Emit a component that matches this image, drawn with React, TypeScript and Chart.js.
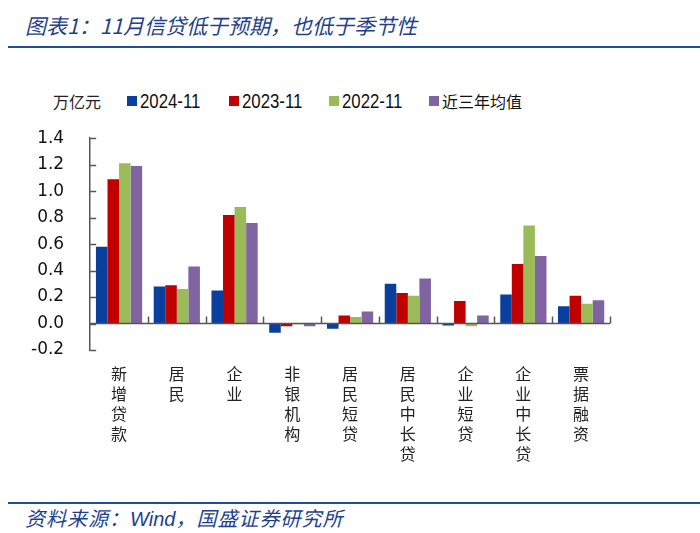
import React, { useEffect, useRef } from "react";
import { Chart, registerables } from "chart.js";

Chart.register(...registerables);

const categories: string[][] = [
  ["新", "增", "贷", "款"],
  ["居", "民"],
  ["企", "业"],
  ["非", "银", "机", "构"],
  ["居", "民", "短", "贷"],
  ["居", "民", "中", "长", "贷"],
  ["企", "业", "短", "贷"],
  ["企", "业", "中", "长", "贷"],
  ["票", "据", "融", "资"],
];

const seriesNames = ["2024-11", "2023-11", "2022-11", "近三年均值"];
const seriesColors = ["#0B3F9E", "#C00000", "#9BBB59", "#8064A2"];

const v2024 = [0.58, 0.28, 0.25, -0.07, -0.04, 0.3, -0.015, 0.22, 0.13];
const v2023 = [1.09, 0.29, 0.82, -0.02, 0.06, 0.23, 0.17, 0.45, 0.21];
const v2022 = [1.21, 0.26, 0.88, -0.005, 0.05, 0.21, -0.02, 0.74, 0.15];
const vAvg = [1.19, 0.43, 0.76, -0.02, 0.09, 0.34, 0.06, 0.51, 0.175];

const yMin = -0.2;
const yMax = 1.4;
const yStep = 0.2;

const axisColor = "#555555";

const axisPlugin = {
  id: "zeroAxis",
  afterDatasetsDraw(chart: any) {
    const { ctx, chartArea, scales } = chart;
    const x = scales.x;
    const y = scales.y;
    const y0 = y.getPixelForValue(0);
    ctx.save();
    ctx.strokeStyle = axisColor;
    ctx.lineWidth = 1.5;
    ctx.beginPath();
    ctx.moveTo(chartArea.left, y0);
    ctx.lineTo(chartArea.right, y0);
    ctx.stroke();
    const n = x.ticks.length;
    for (let i = 1; i <= n; i++) {
      const px = Math.round(x.getPixelForValue(i - 0.5)) + 0.5;
      ctx.beginPath();
      ctx.moveTo(px, y0);
      ctx.lineTo(px, y0 - 7);
      ctx.stroke();
    }
    for (const t of y.ticks) {
      const py = Math.round(y.getPixelForValue(t.value)) + 0.5;
      ctx.beginPath();
      ctx.moveTo(chartArea.left, py);
      ctx.lineTo(chartArea.left + 6, py);
      ctx.stroke();
    }
    ctx.restore();
  },
};

export default function App() {
  const ref = useRef<HTMLCanvasElement | null>(null);
  useEffect(() => {
    if (!ref.current) return;
    const values = [v2024, v2023, v2022, vAvg];
    const chart = new Chart(ref.current, {
      type: "bar",
      data: {
        labels: categories as any,
        datasets: values.map((d, i) => ({
          label: seriesNames[i],
          data: d,
          backgroundColor: seriesColors[i],
          borderWidth: 0,
          barPercentage: 1,
          categoryPercentage: 0.8,
        })),
      },
      options: {
        animation: false,
        responsive: false,
        maintainAspectRatio: false,
        layout: { padding: { left: 5, right: 90, top: 11, bottom: 14 } },
        plugins: {
          legend: { display: false },
          tooltip: { enabled: false },
        },
        scales: {
          x: {
            grid: { display: false, drawTicks: false },
            border: { display: false },
            ticks: {
              autoSkip: false,
              maxRotation: 0,
              minRotation: 0,
              padding: 14,
              color: "#222222",
              font: { family: "'Noto Sans CJK SC', sans-serif", size: 16, lineHeight: 1.25 },
            },
          },
          y: {
            min: yMin,
            max: yMax,
            grid: { display: false, drawTicks: false },
            border: { display: true, color: axisColor, width: 1.5 },
            ticks: {
              stepSize: yStep,
              padding: 26,
              color: "#111111",
              font: { family: "'DejaVu Sans', sans-serif", size: 17 },
              callback: (v: any) => {
                const n = Number(v);
                return (Math.abs(n) < 1e-9 ? 0 : n).toFixed(1);
              },
            },
          },
        },
      },
      plugins: [axisPlugin],
    });
    return () => chart.destroy();
  }, []);

  const blue = "#1E3F8E";
  const legendLefts = [127, 229, 329, 429];

  return (
    <div style={{ position: "fixed", left: 0, top: 0, width: 700, height: 533, background: "#fff", overflow: "hidden" }}>
      <div
        style={{
          position: "absolute",
          left: 25,
          top: 11,
          fontFamily: "'Noto Sans CJK SC', sans-serif",
          fontStyle: "italic",
          fontSize: 21,
          color: blue,
          whiteSpace: "nowrap",
          lineHeight: "28px",
        }}
      >
        图表1：11月信贷低于预期，也低于季节性
      </div>
      <div style={{ position: "absolute", left: 8, right: 0, top: 46, height: 2, background: "#1F4E9A" }} />
      <div
        style={{
          position: "absolute",
          left: 53,
          top: 90,
          fontFamily: "'Noto Sans CJK SC', sans-serif",
          fontSize: 16,
          color: "#222",
          lineHeight: "22px",
        }}
      >
        万亿元
      </div>
      {seriesNames.map((name, i) => (
        <div
          key={name}
          style={{ position: "absolute", left: legendLefts[i], top: 89, height: 24, display: "flex", alignItems: "center", whiteSpace: "nowrap" }}
        >
          <div style={{ width: 10, height: 10, background: seriesColors[i], marginRight: 3, flex: "none" }} />
          <span
            style={{
              display: "inline-block",
              fontFamily: i === 3 ? "'Noto Sans CJK SC', sans-serif" : "'Liberation Sans', sans-serif",
              fontSize: i === 3 ? 16 : 21,
              color: "#111",
              lineHeight: "24px",
              transform: i === 3 ? "none" : "scaleX(0.8)",
              transformOrigin: "left center",
            }}
          >
            {name}
          </span>
        </div>
      ))}
      <canvas ref={ref} width={700} height={390} style={{ position: "absolute", left: 0, top: 102, width: 700, height: 390 }} />
      <div style={{ position: "absolute", left: 8, right: 0, top: 502, height: 2, background: "#1F4E9A" }} />
      <div
        style={{
          position: "absolute",
          left: 25,
          top: 505,
          fontFamily: "'Noto Sans CJK SC', sans-serif",
          fontStyle: "italic",
          fontSize: 20,
          letterSpacing: 1,
          color: blue,
          whiteSpace: "nowrap",
          lineHeight: "26px",
        }}
      >
        资料来源：<span style={{ fontFamily: "'Liberation Sans', sans-serif", letterSpacing: 0 }}>Wind</span>，国盛证券研究所
      </div>
    </div>
  );
}
